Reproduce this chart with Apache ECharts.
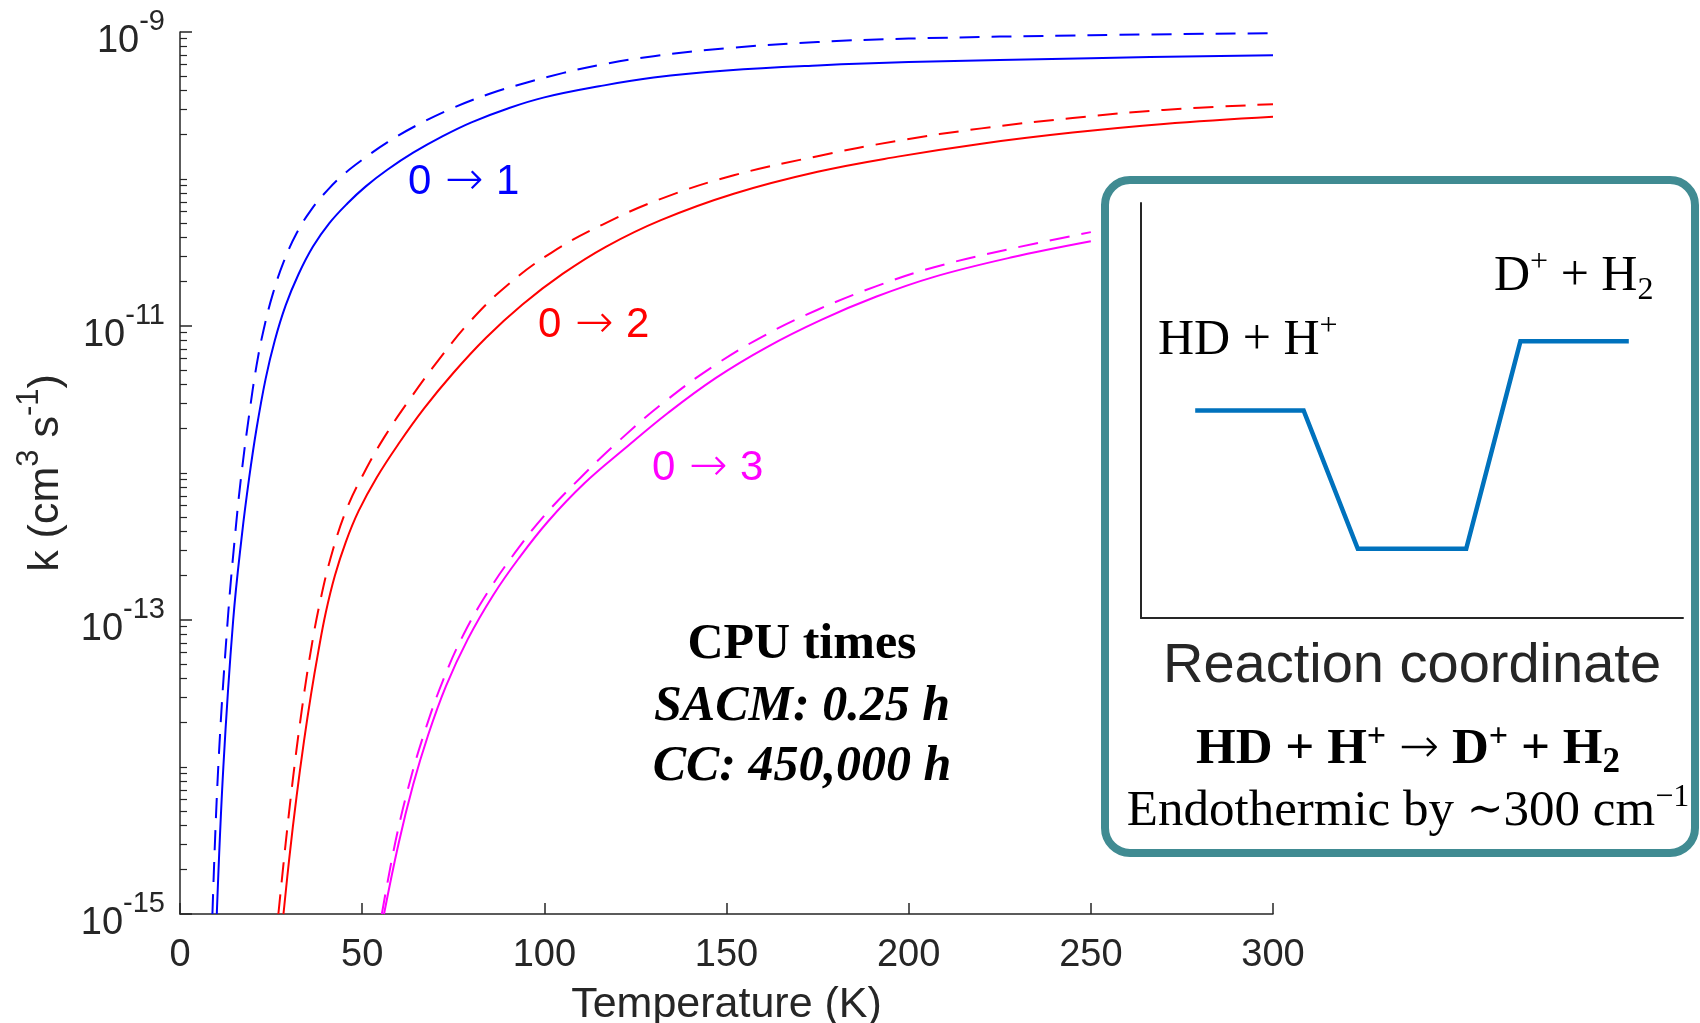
<!DOCTYPE html>
<html>
<head>
<meta charset="utf-8">
<title>HD + H+ rate coefficients</title>
<script src="https://cdn.jsdelivr.net/npm/echarts@6/dist/echarts.min.js"></script>
<style>
  html, body { margin: 0; padding: 0; background: #ffffff; }
  #chart { width: 1700px; height: 1023px; }
</style>
</head>
<body>
<div id="chart"></div>
<script>
// ---- Rate coefficients k (cm^3 s^-1) versus temperature T (K) ----
// 0 -> 1
const t01Solid  = [10.1, 11.9, 14.6, 17.0, 19.0, 21.0, 23.5, 26.0, 29.0, 32.5, 36.5, 41.0, 46.0, 51.0, 57.0, 64.0, 72.0, 80.0, 90.0, 100.0, 115.0, 130.0, 150.0, 175.0, 200.0, 250.0, 300.0];
const k01Solid  = [1.00e-15, 1.00e-14, 1.00e-13, 3.80e-13, 9.33e-13, 2.00e-12, 4.37e-12, 7.94e-12, 1.38e-11, 2.24e-11, 3.47e-11, 5.01e-11, 6.84e-11, 8.91e-11, 1.16e-10, 1.51e-10, 1.95e-10, 2.43e-10, 3.02e-10, 3.59e-10, 4.27e-10, 4.90e-10, 5.47e-10, 5.92e-10, 6.24e-10, 6.64e-10, 6.95e-10];
const t01Dashed = [8.9, 10.5, 13.1, 15.4, 17.0, 19.0, 21.0, 23.0, 25.5, 28.5, 32.0, 36.0, 40.5, 45.0, 50.0, 57.0, 65.0, 75.0, 85.0, 95.0, 105.0, 115.0, 130.0, 150.0, 175.0, 200.0, 250.0, 300.0];
const k01Dashed = [1.00e-15, 1.00e-14, 1.00e-13, 4.47e-13, 1.05e-12, 2.51e-12, 5.37e-12, 9.55e-12, 1.66e-11, 2.75e-11, 4.27e-11, 6.17e-11, 8.41e-11, 1.08e-10, 1.35e-10, 1.78e-10, 2.32e-10, 3.05e-10, 3.80e-10, 4.52e-10, 5.25e-10, 5.96e-10, 6.84e-10, 7.76e-10, 8.55e-10, 9.02e-10, 9.51e-10, 9.82e-10];
// 0 -> 2
const t02Solid  = [28.4, 30.0, 32.0, 34.0, 36.0, 38.0, 40.0, 42.5, 45.5, 49.0, 54.0, 60.0, 67.0, 75.0, 84.0, 94.0, 105.0, 117.0, 132.0, 152.0, 175.0, 197.0, 220.0, 245.0, 270.0, 300.0];
const k02Solid  = [1.00e-15, 2.40e-15, 6.31e-15, 1.48e-14, 3.16e-14, 6.17e-14, 1.12e-13, 2.00e-13, 3.39e-13, 5.50e-13, 9.33e-13, 1.58e-12, 2.75e-12, 4.79e-12, 8.32e-12, 1.40e-11, 2.26e-11, 3.47e-11, 5.25e-11, 7.94e-11, 1.12e-10, 1.42e-10, 1.74e-10, 2.07e-10, 2.37e-10, 2.65e-10];
const t02Dashed = [27.0, 29.0, 31.0, 33.0, 35.5, 38.5, 42.0, 46.0, 50.5, 56.0, 63.0, 71.0, 80.0, 90.0, 102.0, 116.0, 132.0, 152.0, 175.0, 197.0, 220.0, 245.0, 270.0, 300.0];
const k02Dashed = [1.00e-15, 3.02e-15, 8.32e-15, 2.04e-14, 5.37e-14, 1.35e-13, 3.02e-13, 5.89e-13, 1.00e-12, 1.74e-12, 3.16e-12, 5.89e-12, 1.10e-11, 1.91e-11, 3.16e-11, 4.90e-11, 7.33e-11, 1.06e-10, 1.43e-10, 1.82e-10, 2.21e-10, 2.60e-10, 2.95e-10, 3.23e-10];
// 0 -> 3
const t03Solid  = [56.0, 60.0, 64.0, 68.0, 73.0, 79.0, 86.0, 93.0, 101.0, 111.0, 122.0, 134.0, 147.0, 161.0, 176.0, 191.0, 207.0, 228.0, 250.0];
const k03Solid  = [1.00e-15, 3.02e-15, 7.59e-15, 1.62e-14, 3.55e-14, 7.41e-14, 1.48e-13, 2.63e-13, 4.68e-13, 8.51e-13, 1.46e-12, 2.57e-12, 4.42e-12, 7.16e-12, 1.10e-11, 1.58e-11, 2.16e-11, 2.92e-11, 3.77e-11];
const t03Dashed = [55.4, 59.2, 63.2, 67.3, 72.2, 78.0, 85.0, 92.0, 100.0, 110.0, 121.0, 133.0, 146.0, 160.0, 175.0, 191.0, 207.0, 228.0, 250.0];
const k03Dashed = [1.00e-15, 3.16e-15, 8.13e-15, 1.78e-14, 3.89e-14, 8.13e-14, 1.62e-13, 2.88e-13, 5.13e-13, 9.33e-13, 1.70e-12, 3.05e-12, 5.25e-12, 8.51e-12, 1.29e-11, 1.86e-11, 2.51e-11, 3.35e-11, 4.35e-11];

// Axis ticks
const xTicks = [0, 50, 100, 150, 200, 250, 300];
const yLabelExponents = [-15, -13, -11, -9];          // labelled decades (10^n)
const yDecades = [-15, -14, -13, -12, -11, -10, -9];  // every decade of the k axis
const minorMantissas = [2, 3, 4, 5, 6, 7, 8, 9];

// Energy profile along the reaction coordinate (inset)
const pathCoord  = [1, 3, 4, 6, 7, 9];
const pathEnergy = [3, 3, 1, 1, 4, 4];

// Short ticks: unlabelled decades plus 2..9 x 10^n, written as exponents
const minorTickExps = [];
yDecades.forEach(function (e) {
  if (yLabelExponents.indexOf(e) < 0) minorTickExps.push(e);
  if (e < -9) minorMantissas.forEach(function (m) { minorTickExps.push(e + Math.log10(m)); });
});

const zip = (xs, ys) => xs.map((x, i) => [x, ys[i]]);

const AX = '#262626';
const SANS = 'Liberation Sans, Arial, Helvetica, sans-serif';
const SERIF = 'Liberation Serif, Times New Roman, serif';
const ARROW = 'DejaVu Sans, sans-serif';

function curve(name, t, k, color, dashed) {
  return {
    name: name,
    type: 'line',
    xAxisIndex: 0,
    yAxisIndex: 0,
    data: zip(t, k),
    showSymbol: false,
    smooth: 0.4,
    clip: true,
    lineStyle: { color: color, width: 2, type: dashed ? [20, 12] : 'solid' },
    z: 3
  };
}

function transitionLabel(x, y, to, color) {
  return {
    type: 'text', z: 20, x: x, y: y,
    style: {
      text: '{n|0}{a|\u2192}{n|' + to + '}', align: 'left', verticalAlign: 'middle',
      rich: {
        n: { fontSize: 42, lineHeight: 48, fontFamily: SANS, fill: color },
        a: { fontSize: 46, lineHeight: 48, fontWeight: 200, fontFamily: ARROW, fill: color, padding: [0, 12, 0, 14] }
      }
    }
  };
}

const chart = echarts.init(document.getElementById('chart'), null, { renderer: 'canvas' });

const option = {
  animation: false,
  backgroundColor: '#ffffff',
  textStyle: { fontFamily: SANS },
  grid: [
    { left: 180, top: 32, width: 1093, height: 882, outerBoundsMode: 'none', containLabel: false },
    { left: 1141, top: 203, width: 542, height: 415, outerBoundsMode: 'none', containLabel: false }
  ],
  xAxis: [
    {
      gridIndex: 0, type: 'value', min: 0, max: 300, interval: 50,
      axisLine: { onZero: false, lineStyle: { color: AX, width: 1.5 } },
      axisTick: { inside: true, length: 11, customValues: xTicks, lineStyle: { color: AX, width: 1.5 } },
      axisLabel: { customValues: xTicks, fontSize: 38, color: AX, fontFamily: SANS, margin: 23 },
      splitLine: { show: false },
      name: 'Temperature (K)', nameLocation: 'middle', nameGap: 70,
      nameTextStyle: { fontSize: 43, color: AX, fontFamily: SANS }
    },
    {
      gridIndex: 1, type: 'value', min: 0, max: 10,
      axisLine: { onZero: false, lineStyle: { color: AX, width: 2 } },
      axisTick: { show: false }, axisLabel: { show: false }, splitLine: { show: false },
      name: 'Reaction coordinate', nameLocation: 'middle', nameGap: 21,
      nameTextStyle: { fontSize: 56, color: AX, fontFamily: SANS }
    }
  ],
  yAxis: [
    {
      // data axis (logarithmic)
      gridIndex: 0, type: 'log', logBase: 10, min: 1e-15, max: 1e-9, position: 'left',
      axisLine: { show: true, onZero: false, lineStyle: { color: AX, width: 1.5 } },
      axisTick: { show: false }, axisLabel: { show: false }, splitLine: { show: false },
      minorTick: { show: false },
      name: '{a|k (cm}{s|3}{a| s}{s|-1}{a|)}', nameLocation: 'middle', nameGap: 112,
      nameTextStyle: {
        color: AX,
        rich: {
          a: { fontSize: 43, lineHeight: 44, fontFamily: SANS, color: AX },
          s: { fontSize: 31, lineHeight: 10, padding: [0, 0, 34, 0], fontFamily: SANS, color: AX }
        }
      }
    },
    {
      // labelled decades, in exponent units over the same span
      gridIndex: 0, type: 'value', min: -15, max: -9, position: 'left',
      axisLine: { show: false, onZero: false },
      axisTick: { show: true, inside: true, length: 12, customValues: yLabelExponents, lineStyle: { color: AX, width: 1.5 } },
      axisLabel: {
        customValues: yLabelExponents,
        margin: 15,
        formatter: function (v) { return '{b|10}{s|' + Math.round(v) + '}'; },
        rich: {
          b: { fontSize: 38, lineHeight: 38, padding: [20, 0, 0, 0], fontFamily: SANS, color: AX },
          s: { fontSize: 29, lineHeight: 38, padding: [0, 0, 20, 0], fontFamily: SANS, color: AX }
        }
      },
      splitLine: { show: false }
    },
    {
      // short ticks
      gridIndex: 0, type: 'value', min: -15, max: -9, position: 'left',
      axisLine: { show: false, onZero: false },
      axisTick: { show: true, inside: true, length: 7, customValues: minorTickExps, lineStyle: { color: AX, width: 1.2 } },
      axisLabel: { show: false },
      splitLine: { show: false }
    },
    {
      gridIndex: 1, type: 'value', min: 0, max: 6,
      axisLine: { onZero: false, lineStyle: { color: AX, width: 2 } },
      axisTick: { show: false }, axisLabel: { show: false }, splitLine: { show: false }
    }
  ],
  series: [
    curve('0-1 solid', t01Solid, k01Solid, '#0000ff', false),
    curve('0-1 dashed', t01Dashed, k01Dashed, '#0000ff', true),
    curve('0-2 solid', t02Solid, k02Solid, '#ff0000', false),
    curve('0-2 dashed', t02Dashed, k02Dashed, '#ff0000', true),
    curve('0-3 solid', t03Solid, k03Solid, '#ff00ff', false),
    curve('0-3 dashed', t03Dashed, k03Dashed, '#ff00ff', true),
    {
      name: 'energy profile', type: 'line', xAxisIndex: 1, yAxisIndex: 3,
      data: zip(pathCoord, pathEnergy), showSymbol: false,
      lineStyle: { color: '#0072bd', width: 4.5, join: 'miter' }, z: 5
    }
  ],
  graphic: [
    {
      type: 'rect', z: -5,
      shape: { x: 1105, y: 180, width: 590, height: 673, r: 25 },
      style: { fill: '#ffffff', stroke: '#408b92', lineWidth: 8 }
    },
    // transition labels
    transitionLabel(408, 182, '1', '#0000ff'),
    transitionLabel(538, 325, '2', '#ff0000'),
    transitionLabel(652, 468, '3', '#ff00ff'),
    // CPU times block
    { type: 'text', z: 20, x: 802, y: 645, style: { text: 'CPU times', fontSize: 50, fontWeight: 'bold', fontFamily: SERIF, fill: '#000', align: 'center', verticalAlign: 'middle' } },
    { type: 'text', z: 20, x: 802, y: 707, style: { text: 'SACM: 0.25 h', fontSize: 50, fontWeight: 'bold', fontStyle: 'italic', fontFamily: SERIF, fill: '#000', align: 'center', verticalAlign: 'middle' } },
    { type: 'text', z: 20, x: 802, y: 767, style: { text: 'CC: 450,000 h', fontSize: 50, fontWeight: 'bold', fontStyle: 'italic', fontFamily: SERIF, fill: '#000', align: 'center', verticalAlign: 'middle' } },
    // inset labels
    {
      type: 'text', z: 20, x: 1158, y: 341,
      style: {
        text: '{m|HD + H}{p|+}', align: 'left', verticalAlign: 'middle',
        rich: {
          m: { fontSize: 50, lineHeight: 60, fontFamily: SERIF, fill: '#000' },
          p: { fontSize: 32, lineHeight: 44, verticalAlign: 'top', fontFamily: SERIF, fill: '#000' }
        }
      }
    },
    {
      type: 'text', z: 20, x: 1494, y: 277,
      style: {
        text: '{m|D}{p|+}{m| + H}{d|2}', align: 'left', verticalAlign: 'middle',
        rich: {
          m: { fontSize: 50, lineHeight: 60, fontFamily: SERIF, fill: '#000' },
          p: { fontSize: 32, lineHeight: 42, verticalAlign: 'top', fontFamily: SERIF, fill: '#000' },
          d: { fontSize: 32, lineHeight: 26, verticalAlign: 'bottom', fontFamily: SERIF, fill: '#000' }
        }
      }
    },
    {
      type: 'text', z: 20, x: 1408, y: 750,
      style: {
        text: '{m|HD + H}{p|+}{m| }{a|\u2192}{m| D}{p|+}{m| + H}{d|2}', align: 'center', verticalAlign: 'middle',
        rich: {
          m: { fontSize: 51, lineHeight: 60, fontWeight: 'bold', fontFamily: SERIF, fill: '#000' },
          a: { fontSize: 48, lineHeight: 60, fontWeight: 200, fontFamily: ARROW, fill: '#000' },
          p: { fontSize: 34, lineHeight: 48, verticalAlign: 'top', fontWeight: 'bold', fontFamily: SERIF, fill: '#000' },
          d: { fontSize: 35, lineHeight: 34, verticalAlign: 'bottom', fontWeight: 'bold', fontFamily: SERIF, fill: '#000' }
        }
      }
    },
    {
      type: 'text', z: 20, x: 1408, y: 812,
      style: {
        text: '{m|Endothermic by }{t|\u223c}{m|300 cm}{p|\u22121}', align: 'center', verticalAlign: 'middle',
        rich: {
          m: { fontSize: 51, lineHeight: 60, fontFamily: SERIF, fill: '#000' },
          t: { fontSize: 44, lineHeight: 60, fontFamily: 'DejaVu Serif, serif', fill: '#000' },
          p: { fontSize: 32, lineHeight: 40, verticalAlign: 'top', fontFamily: SERIF, fill: '#000' }
        }
      }
    }
  ]
};

chart.setOption(option);
</script>
</body>
</html>
